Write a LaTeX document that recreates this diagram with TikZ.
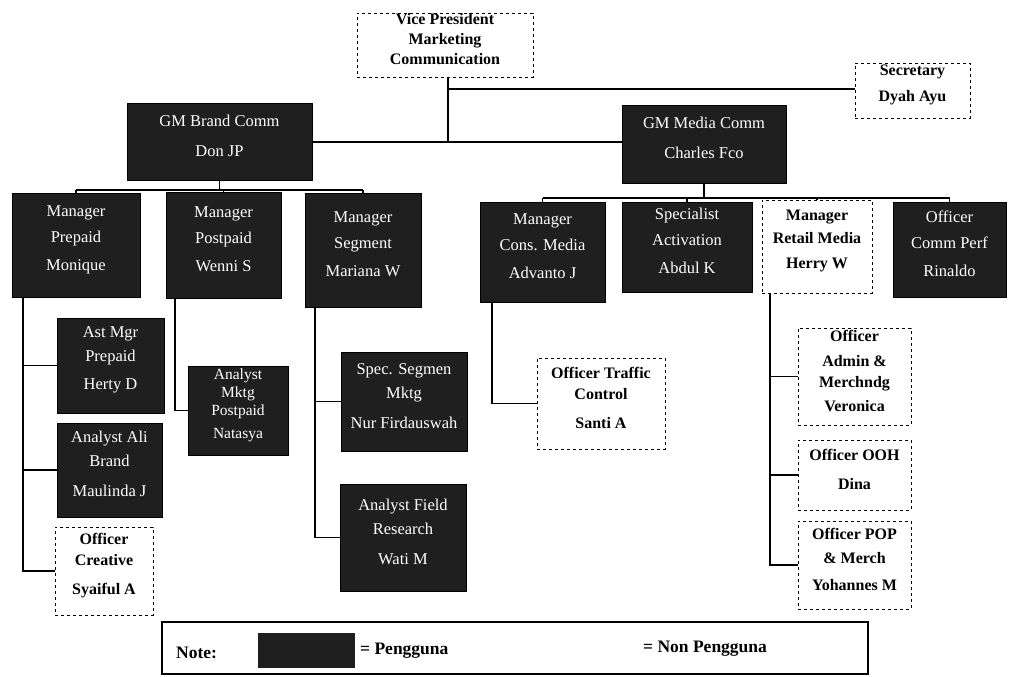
\documentclass[tikz,border=0pt]{standalone}
\usepackage{fontspec}
\setmainfont{Liberation Serif}
\usetikzlibrary{fit}
\begin{document}
\begin{tikzpicture}[x=1pt,y=-1pt,
  user/.style={draw=black, fill=black!88, text=white, inner sep=0pt, align=center,
    font=\fontsize{16.5}{24}\selectfont},
  nonuser/.style={draw=black, dashed, line width=0.8pt, fill=white, inner sep=0pt, align=center,
    font=\bfseries\fontsize{16}{21}\selectfont},
  conn/.style={draw=black, line width=1.6pt},
  legtext/.style={font=\bfseries\fontsize{17.5}{20}\selectfont, inner sep=0pt}
]
\useasboundingbox (0,0) rectangle (1012,677);

% top level
\node[nonuser, fit={(357,13) (533,77)}, font=\bfseries\fontsize{16}{20}\selectfont] (VP) {Vice President\\Marketing\\Communication};
\node[nonuser, fit={(855,63) (970,118)}] (Sec) {Secretary\\[5pt]Dyah Ayu};
\node[user, fit={(127,103) (312,180)}] (GMB) {GM Brand Comm\\[6pt]Don JP};
\node[user, fit={(622,105) (786,183)}] (GMM) {GM Media Comm\\[6pt]Charles Fco};

% brand comm managers
\node[user, fit={(12,193) (140,297)}] (MP) {Manager\\[2pt]Prepaid\\[4pt]Monique};
\node[user, fit={(166,192) (281,298)}] (MPo) {Manager\\[2pt]Postpaid\\[4pt]Wenni S};
\node[user, fit={(305,193) (421,307)}] (MS) {Manager\\[2pt]Segment\\[4pt]Mariana W};

\node[user, fit={(57,318) (164,413)}] (AMP) {Ast Mgr\\Prepaid\\[4pt]Herty D};
\node[user, fit={(57,423) (162,517)}] (AAB) {Analyst Ali\\Brand\\[6pt]Maulinda J};
\node[nonuser, fit={(55,527) (153,615)}] (OC) {Officer\\Creative\\[8pt]Syaiful A};
\node[user, fit={(188,366) (288,455)}, font=\fontsize{15.5}{18}\selectfont] (AMPo) {Analyst\\Mktg\\Postpaid\\[5pt]Natasya};
\node[user, fit={(341,352) (467,451)}] (SSM) {Spec. Segmen\\Mktg\\[6pt]Nur Firdauswah};
\node[user, fit={(340,484) (466,591)}] (AFR) {Analyst Field\\Research\\[6pt]Wati M};

% media comm
\node[user, fit={(480,202) (605,302)}] (MCM) {Manager\\[2pt]Cons. Media\\[4pt]Advanto J};
\node[user, fit={(622,202) (752,292)}] (SA) {Specialist\\[2pt]Activation\\[4pt]Abdul K};
\node[nonuser, fit={(762,200) (872,293)}] (MRM) {Manager\\[2pt]Retail Media\\[4pt]Herry W};
\node[user, fit={(893,202) (1006,297)}] (OCP) {Officer\\[2pt]Comm Perf\\[4pt]Rinaldo};

\node[nonuser, fit={(537,358) (665,449)}] (OTC) {Officer Traffic\\Control\\[8pt]Santi A};
\node[nonuser, fit={(798,328) (911,425)}] (OAM) {Officer\\[4pt]Admin \&\\Merchndg\\[3pt]Veronica};
\node[nonuser, fit={(798,440) (911,510)}] (OOH) {Officer OOH\\[8pt]Dina};
\node[nonuser, fit={(798,521) (911,609)}] (POP) {Officer POP\\[3pt]\& Merch\\[6pt]Yohannes M};

% connectors: top
\coordinate (jv) at (448,89);
\coordinate (jg) at (448,142);
\draw[conn] (VP.south -| jg) -- (jg);
\draw[conn] (jv) -- (jv -| Sec.west);
\draw[conn] (GMB.east |- jg) -- (jg -| GMM.west);

% brand comm bus
\coordinate (bL) at (222,190);
\draw[conn] (GMB.south) -- (GMB.south |- bL);
\draw[conn] (MP.north |- bL) -- (MS.north |- bL);
\draw[conn] (MP.north |- bL) -- (MP.north);
\draw[conn] (MPo.north |- bL) -- (MPo.north);
\draw[conn] (MS.north |- bL) -- (MS.north);

\coordinate (s1) at (23,0);
\coordinate (s2) at (175,0);
\coordinate (s3) at (315,0);
\coordinate (s4) at (492,0);
\coordinate (s5) at (770,0);
\draw[conn] (MP.south -| s1) |- (OC.west);
\draw[conn] (s1 |- AMP.west) -- (AMP.west);
\draw[conn] (s1 |- AAB.west) -- (AAB.west);
\draw[conn] (MPo.south -| s2) |- (AMPo.west);
\draw[conn] (MS.south -| s3) |- (AFR.west);
\draw[conn] (s3 |- SSM.west) -- (SSM.west);

% media comm bus
\coordinate (bR) at (704,198);
\draw[conn] (GMM.south) -- (GMM.south |- bR);
\draw[conn] (MCM.north |- bR) -- (OCP.north |- bR);
\draw[conn] (MCM.north |- bR) -- (MCM.north);
\draw[conn] (SA.north |- bR) -- (SA.north);
\draw[conn] (MRM.north |- bR) -- (MRM.north);
\draw[conn] (OCP.north |- bR) -- (OCP.north);
\draw[conn] (MCM.south -| s4) |- (OTC.west);
\draw[conn] (MRM.south -| s5) |- (POP.west);
\draw[conn] (s5 |- OAM.west) -- (OAM.west);
\draw[conn] (s5 |- OOH.west) -- (OOH.west);

% legend
\node[draw=black, line width=1.5pt, fill=white, inner sep=0pt, fit={(162,622) (868,674)}] (LG) {};
\node[fill=black!88, inner sep=0pt, fit={(258,633) (355,668)}] (LU) {};
\node[legtext, anchor=west] (LN) at (176,653) {Note:};
\node[legtext, anchor=west] (LP) at (360,651) {= Pengguna};
\node[legtext, anchor=west] (LNP) at (643,649) {= Non Pengguna};
\end{tikzpicture}
\end{document}
